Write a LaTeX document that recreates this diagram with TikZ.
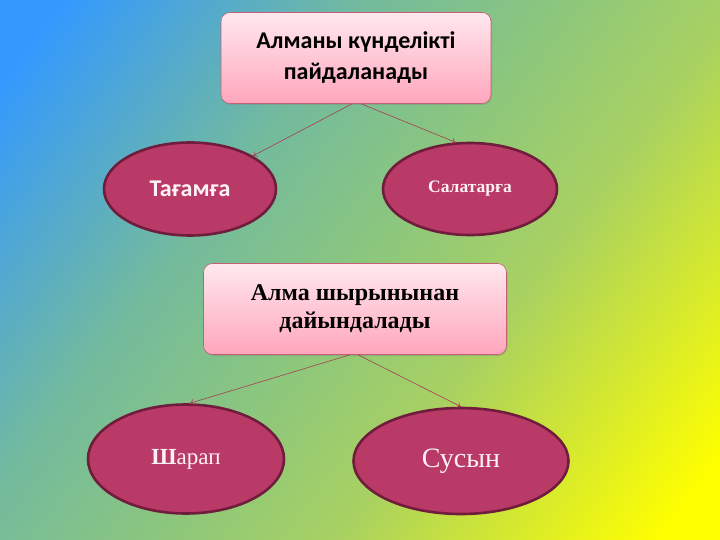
\documentclass[tikz,border=0pt]{standalone}
\usepackage{fontspec}
\setmainfont{Liberation Serif}
\newfontfamily\calib{Carlito}
\usetikzlibrary{shapes, arrows.meta, positioning, shadows}

\definecolor{kotakatas}{RGB}{255,232,238}
\definecolor{kotakbawah}{RGB}{255,166,188}
\definecolor{garis}{RGB}{196,96,118}
\definecolor{elips}{RGB}{185,58,102}
\definecolor{tepi}{RGB}{112,28,60}
\definecolor{panah}{RGB}{165,62,82}
\definecolor{teks}{RGB}{255,242,246}
\pgfdeclarehorizontalshading{latar}{100bp}{rgb(0bp)=(0.2,0.6,1); rgb(18.75bp)=(0.2,0.6,1);
  rgb(37.5bp)=(0.45,0.73,0.62); rgb(50bp)=(0.55,0.78,0.49); rgb(61.25bp)=(0.66,0.82,0.38);
  rgb(81.25bp)=(1,1,0); rgb(100bp)=(1,1,0)}

\tikzset{
  kotak/.style={draw=garis, line width=0.6pt, rounded corners=9pt, top color=kotakatas,
    bottom color=kotakbawah, align=center, font=\bfseries,
    drop shadow={shadow xshift=1pt, shadow yshift=-1.5pt, opacity=0.35}},
  bulat/.style={ellipse, draw=tepi, line width=2.6pt, fill=elips, text=teks, inner sep=0pt},
  panahku/.style={draw=panah, line width=0.6pt, -{To[length=4pt, width=6pt]}}
}

\begin{document}
\begin{tikzpicture}[x=1pt, y=-1pt]
  % Latar belakang
  \shade[shading=latar, shading angle=-36.87] (0,0) rectangle (720,540);
  \useasboundingbox (0,0) rectangle (720,540);

  % Kotak atas
  \node[kotak, minimum width=270pt, minimum height=91pt, font=\calib\bfseries\fontsize{24}{31}\selectfont]
    (guna) at (356,58) {Алманы күнделікті\\пайдаланады};
  \node[bulat, minimum width=172pt, minimum height=93pt, font=\calib\bfseries\fontsize{24}{26}\selectfont]
    (tagam) at (190,189) {Тағамға};
  \node[bulat, minimum width=174pt, minimum height=92pt, font=\bfseries\fontsize{17.5}{20}\selectfont]
    (salat) at (470,189) {Салатарға};

  % Kotak bawah
  \node[kotak, minimum width=303pt, minimum height=91pt, font=\bfseries\fontsize{24}{28}\selectfont]
    (sirne) at (355,309) {Алма шырынынан\\дайындалады};
  \node[bulat, minimum width=196pt, minimum height=109pt, font=\fontsize{23}{26}\selectfont]
    (sharap) at (186,459) {\textbf{Ш}арап};
  \node[bulat, minimum width=215pt, minimum height=106pt, font=\fontsize{28}{30}\selectfont]
    (susyn) at (461,461) {Сусын};

  % Panah
  \draw[panahku] ([xshift=-4pt]guna.south) -- (tagam);
  \draw[panahku] ([xshift=5pt]guna.south) -- (salat.107);
  \draw[panahku] ([xshift=-5pt]sirne.south) -- (sharap.86);
  \draw[panahku] ([xshift=3pt]sirne.south) -- (susyn.north);
\end{tikzpicture}
\end{document}
